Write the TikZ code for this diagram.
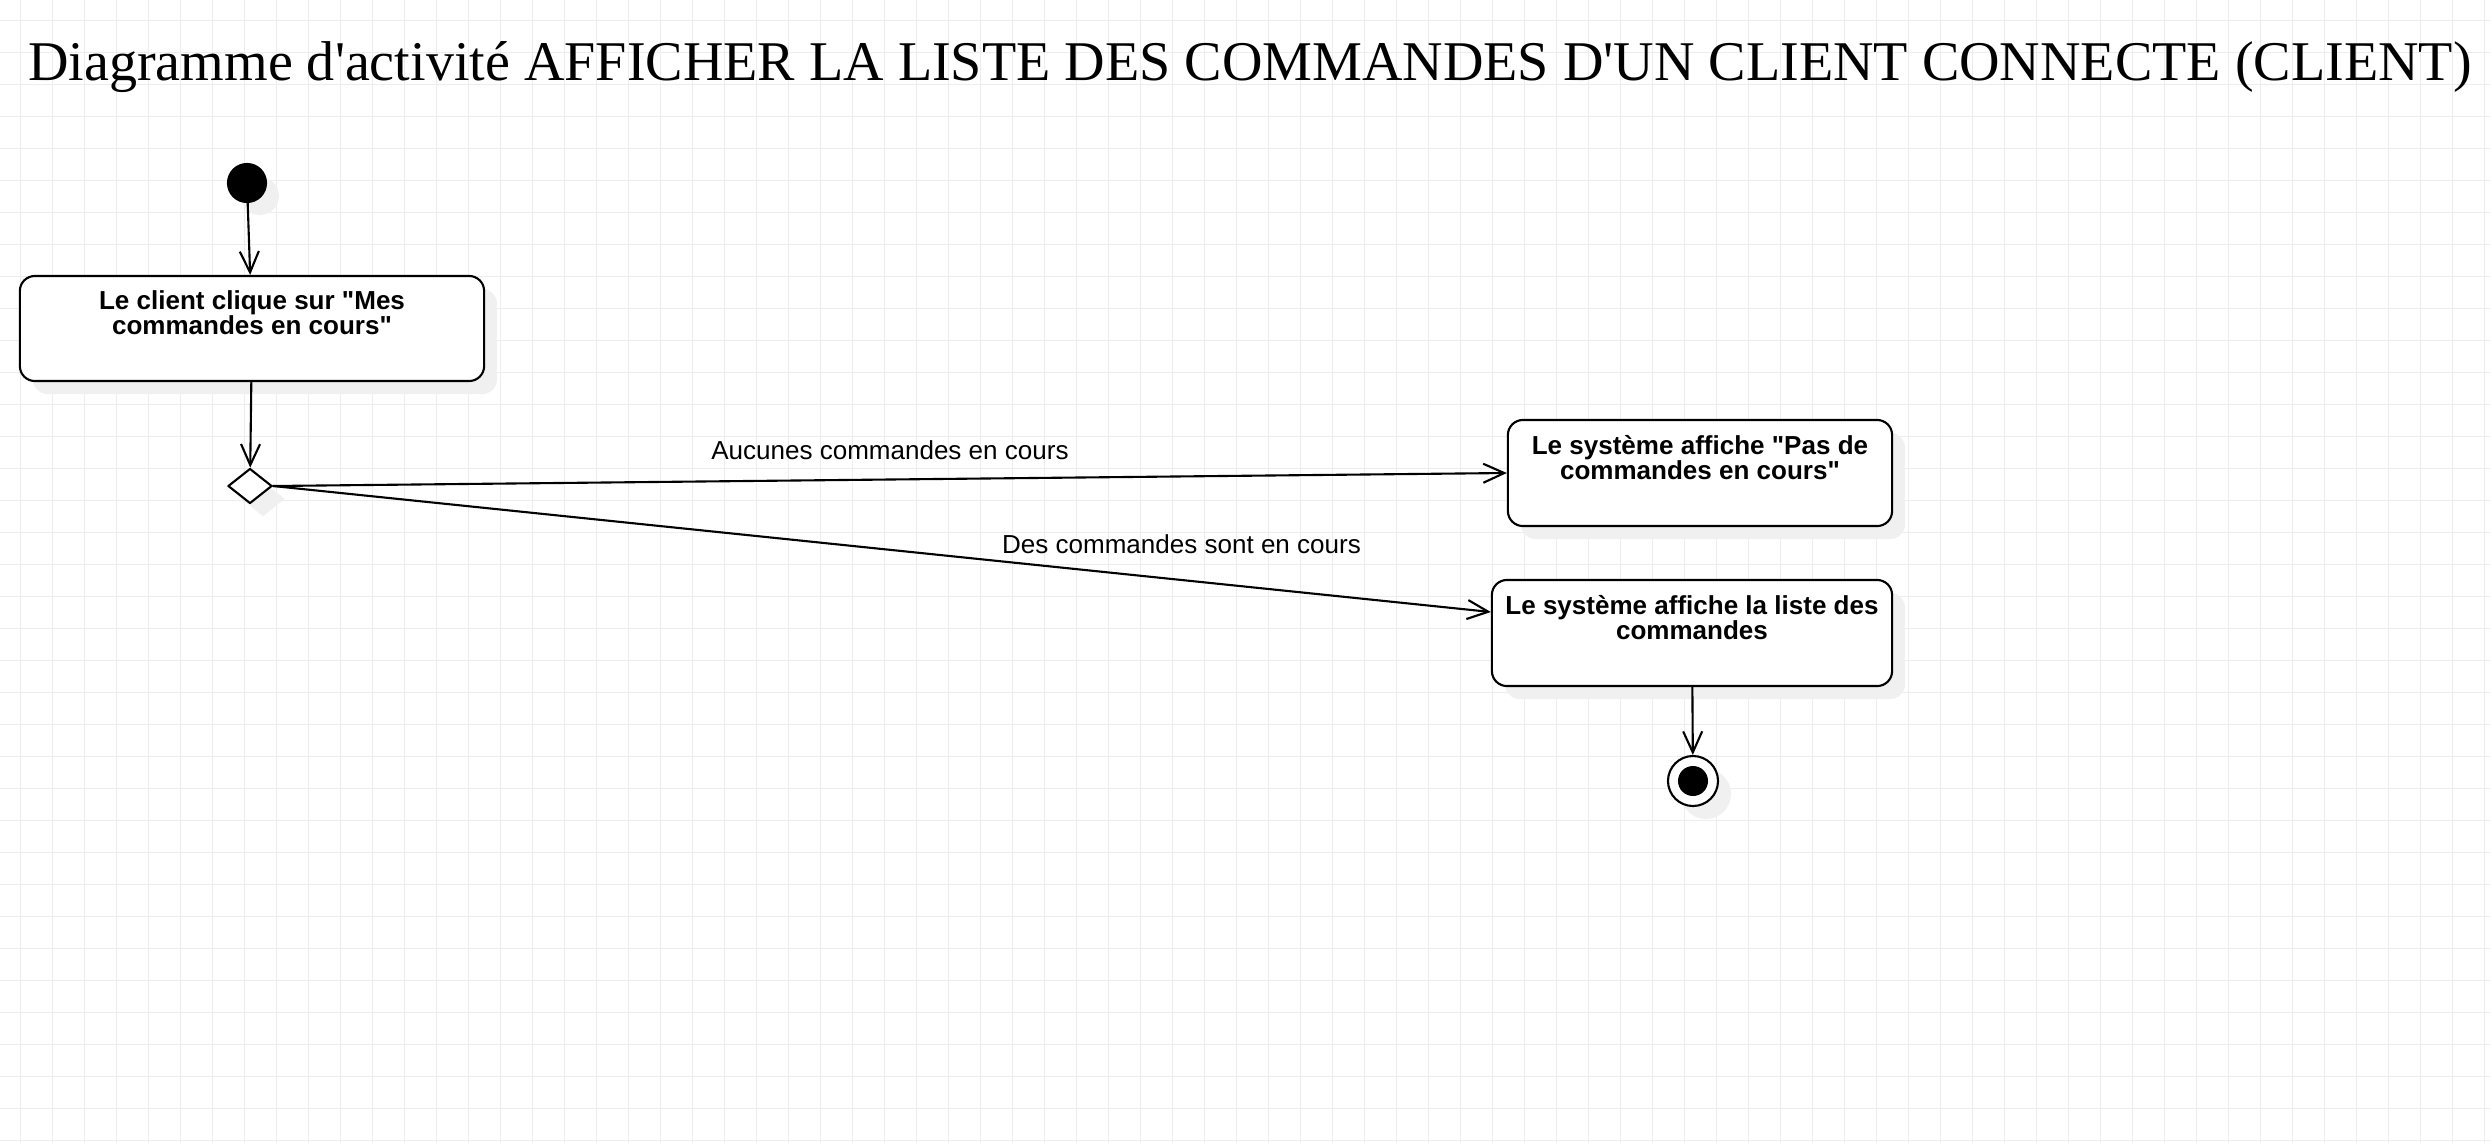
\documentclass[tikz,border=0pt]{standalone}
\usepackage{fontspec}
\usepackage{graphicx}
\newfontfamily\titrefont{Liberation Serif}
\newfontfamily\boitefont{Liberation Sans}
\usetikzlibrary{arrows.meta,shapes.geometric,shadows}
\tikzset{
  ombre/.style={drop shadow={shadow xshift=0.13cm, shadow yshift=-0.13cm, fill=black!6, opacity=1}},
  grille/.style={line width=0.28pt, color=black!7},
  titre/.style={anchor=base, inner sep=0pt, font=\titrefont\fontsize{20}{24}\selectfont},
  activite/.style={draw, ombre, fill=white, rounded corners=0.15cm, inner sep=0pt, font=\boitefont\bfseries\fontsize{7.4}{6.97}\selectfont},
  debut/.style={circle, draw, fill=black, inner sep=0pt, minimum size=0.38cm, ombre},
  decision/.style={diamond, draw, fill=white, inner sep=0pt, minimum width=0.44cm, minimum height=0.35cm, ombre},
  fin/.style={circle, draw, fill=white, inner sep=0pt, minimum size=0.5cm, ombre,
    path picture={\fill[black] (path picture bounding box.center) circle (0.15cm);}},
  etiquette/.style={inner sep=0pt, font=\boitefont\fontsize{7.4}{6.97}\selectfont},
}
\newcommand{\texteact}[2]{\parbox[c][0.75cm][t]{#1}{\centering #2}}

\begin{document}
\begin{tikzpicture}[x=0.01cm, y=-0.01cm, line width=0.6pt, line join=round, line cap=round, >={Straight Barb[length=0.21cm,width=0.19cm]}]
  \useasboundingbox[fill=white] (0,0) rectangle (2490,1142);
  % grille de fond
  \foreach \gx in {0,...,77} \draw[grille] ({20.3+32*\gx},0) -- ({20.3+32*\gx},1142);
  \foreach \gy in {0,...,35} \draw[grille] (0,{20.3+32*\gy}) -- (2490,{20.3+32*\gy});

  \node[titre] (titre) at (1250,80) {\resizebox{24.42cm}{!}{Diagramme d'activité AFFICHER LA LISTE DES COMMANDES D'UN CLIENT CONNECTE (CLIENT)}};

  \node[debut] (debut) at (247,183) {};
  \node[activite, minimum width=4.64cm, minimum height=1.05cm] (clic) at (252,328.5) {\texteact{4.5cm}{Le client clique sur "Mes\\commandes en cours"}};
  \node[decision] (choix) at (250,486) {};
  \node[activite, minimum width=3.84cm, minimum height=1.06cm] (vide) at (1700,473) {\texteact{3.7cm}{Le système affiche "Pas de\\commandes en cours"}};
  \node[activite, minimum width=4cm, minimum height=1.06cm] (liste) at (1692,633) {\texteact{3.9cm}{Le système affiche la liste des\\commandes}};
  \node[fin] (fin) at (1693,781) {};

  \draw[->] (debut) -- (clic);
  \draw[->] (clic) -- (choix);
  \draw[->] (choix.east) -- node[etiquette, above=0.19cm] (aucune) {Aucunes commandes en cours} (vide.west);
  \draw[->] (choix.east) -- node[etiquette, pos=0.746, above=0.25cm] (encours) {Des commandes sont en cours} ([yshift=0.21cm]liste.west);
  \draw[->] (liste) -- (fin);
\end{tikzpicture}
\end{document}
